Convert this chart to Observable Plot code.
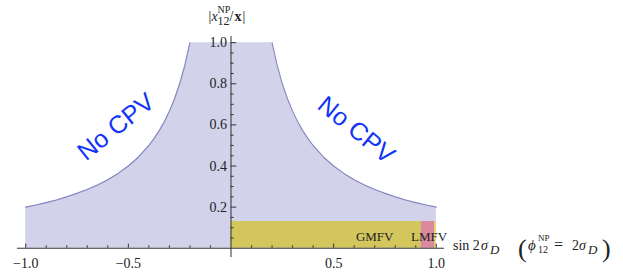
<!DOCTYPE html>
<html><head><meta charset="utf-8">
<script src="https://cdn.jsdelivr.net/npm/d3@7"></script>
<script src="https://cdn.jsdelivr.net/npm/@observablehq/plot@0.6"></script>
<style>body{margin:0;background:#fff;} #chart svg{display:block;}</style>
</head><body><div id="chart"></div>
<script>
// Boundary curve of the allowed region
const leftX  = [-1, -0.95, -0.9, -0.85, -0.8, -0.75, -0.7, -0.65, -0.6, -0.55, -0.5, -0.45, -0.4, -0.375, -0.35, -0.325, -0.3, -0.275, -0.25, -0.225, -0.2];
const leftY  = [0.2, 0.21, 0.222, 0.235, 0.25, 0.267, 0.286, 0.308, 0.333, 0.364, 0.4, 0.444, 0.5, 0.533, 0.571, 0.615, 0.667, 0.727, 0.8, 0.889, 1.0];
const rightX = [0.2, 0.225, 0.25, 0.275, 0.3, 0.325, 0.35, 0.375, 0.4, 0.45, 0.5, 0.55, 0.6, 0.65, 0.7, 0.75, 0.8, 0.85, 0.9, 0.95, 1];
const rightY = [1.0, 0.889, 0.8, 0.727, 0.667, 0.615, 0.571, 0.533, 0.5, 0.444, 0.4, 0.364, 0.333, 0.308, 0.286, 0.267, 0.25, 0.235, 0.222, 0.21, 0.2];

// Bands along the bottom
const bandNames = ["GMFV", "LMFV", "edge"];
const bandX1 = [0, 0.927, 0.993];
const bandX2 = [0.927, 0.993, 1.0];
const bandTop = [0.13, 0.13, 0.13];
const bandColors = ["#d3c65c", "#d98a9d", "#e8dc4a"];
const bandLabels = ["GMFV", "LMFV"];
const bandLabelX = [0.70, 0.965];
const bandLabelY = [0.055, 0.055];

// Region annotations
const regionText = ["No CPV", "No CPV"];
const regionX = [-0.56, 0.61];
const regionY = [0.59, 0.575];
const regionAngle = [-39, 39];

// Ticks
const xMajor = [-1, -0.5, 0.5, 1];
const xMajorLabels = ["\u22121.0", "\u22120.5", "0.5", "1.0"];
const xMinor = [-0.9, -0.8, -0.7, -0.6, -0.4, -0.3, -0.2, -0.1, 0.1, 0.2, 0.3, 0.4, 0.6, 0.7, 0.8, 0.9];
const yMajor = [0.2, 0.4, 0.6, 0.8, 1.0];
const yMajorLabels = ["0.2", "0.4", "0.6", "0.8", "1.0"];
const yMinor = [0.05, 0.1, 0.15, 0.25, 0.3, 0.35, 0.45, 0.5, 0.55, 0.65, 0.7, 0.75, 0.85, 0.9, 0.95];

const region = [
  ...leftX.map((x, i) => ({x, y: leftY[i], side: "L"})),
  ...rightX.map((x, i) => ({x, y: rightY[i], side: "R"}))
];
const bands = bandNames.map((n, i) => ({n, x1: bandX1[i], x2: bandX2[i], y: bandTop[i], c: bandColors[i]}));
const serif = "Liberation Serif, Times New Roman, serif";

const plot = Plot.plot({
  width: 623, height: 273,
  marginLeft: 17, marginRight: 179, marginTop: 36, marginBottom: 16,
  x: {domain: [-1.04, 1.04], axis: null},
  y: {domain: [-0.045, 1.03], axis: null},
  marks: [
    Plot.areaY(region, {x: "x", y: "y", fill: "#d2d2ea"}),
    Plot.line(region, {x: "x", y: "y", z: "side", stroke: "#8484c0", strokeWidth: 1.1}),
    Plot.rect(bands, {x1: "x1", x2: "x2", y1: 0, y2: "y", fill: "c"}),
    Plot.text(bandLabels, {x: (d, i) => bandLabelX[i], y: (d, i) => bandLabelY[i], text: d => d, fontFamily: serif, fontSize: 13, fill: "#222"}),
    Plot.ruleY([0], {stroke: "#333", strokeWidth: 1}),
    Plot.ruleX([0], {stroke: "#333", strokeWidth: 1}),
    Plot.ruleX(xMajor, {x: d => d, y1: 0, y2: 0.02, stroke: "#333"}),
    Plot.ruleX(xMinor, {x: d => d, y1: 0, y2: 0.012, stroke: "#333"}),
    Plot.ruleY(yMajor, {y: d => d, x1: 0, x2: 0.028, stroke: "#333"}),
    Plot.ruleY(yMinor, {y: d => d, x1: 0, x2: 0.015, stroke: "#333"}),
    Plot.text(xMajor, {x: d => d, y: 0, dy: 15, text: (d, i) => xMajorLabels[i], fontFamily: serif, fontSize: 14, fill: "#222"}),
    Plot.text(yMajor, {x: 0, y: d => d, dx: -4, textAnchor: "end", text: (d, i) => yMajorLabels[i], fontFamily: serif, fontSize: 14, fill: "#222"}),
    Plot.text(regionText, {x: (d, i) => regionX[i], y: (d, i) => regionY[i], rotate: (d, i) => regionAngle[i], text: d => d, fontFamily: "Liberation Sans, Arial, sans-serif", fontSize: 25, fill: "#1234f5"})
  ]
});
document.getElementById("chart").appendChild(plot);

// Math-style axis titles as real text
const svg = d3.select(plot);
const xs = plot.scale("x"), ys = plot.scale("y");
const x0 = xs.apply(0), yTop = ys.apply(1.03);
const xEnd = xs.apply(1.04), y0 = ys.apply(0);
function t(x, y, str, opts = {}) {
  svg.append("text").attr("x", x).attr("y", y)
    .attr("font-family", serif).attr("font-size", opts.size || 14)
    .attr("font-style", opts.italic ? "italic" : null)
    .attr("font-weight", opts.bold ? "bold" : null)
    .attr("fill", "#222")
    .attr("text-anchor", opts.anchor || "start")
    .text(str);
}
// y-axis title |x_12^NP / x|
const ty = yTop - 15;
t(x0 - 22, ty, "|", {size: 14});
t(x0 - 19, ty, "x", {size: 14, italic: true});
t(x0 - 13, ty - 8, "NP", {size: 10});
t(x0 - 13, ty + 4, "12", {size: 12});
t(x0 - 1, ty, "/", {size: 14});
t(x0 + 4, ty, "x", {size: 14, bold: true});
t(x0 + 12, ty, "|", {size: 14});
// x-axis title sin 2σ_D  (φ_12^NP = 2σ_D)
const bx = xEnd + 9, by = y0 + 2;
t(bx, by, "sin 2", {size: 14});
t(bx + 28, by, "\u03c3", {size: 14, italic: true});
t(bx + 37, by + 4, "D", {size: 13, italic: true});
t(bx + 65, by + 7, "(", {size: 26});
t(bx + 75, by, "\u03d5", {size: 15, italic: true});
t(bx + 85, by - 9, "NP", {size: 9});
t(bx + 85, by + 3, "12", {size: 10});
t(bx + 101, by, "=", {size: 16});
t(bx + 119, by, "2", {size: 14});
t(bx + 126, by, "\u03c3", {size: 14, italic: true});
t(bx + 135, by + 4, "D", {size: 13, italic: true});
t(bx + 149, by + 7, ")", {size: 26});
</script>
</body></html>
